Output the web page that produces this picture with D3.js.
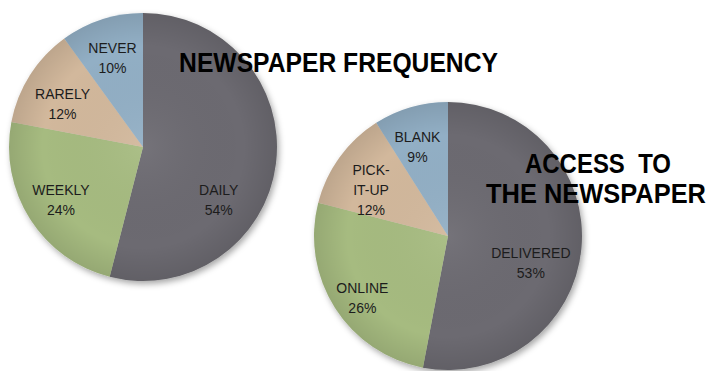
<!DOCTYPE html>
<html>
<head>
<meta charset="utf-8">
<script src="https://cdn.jsdelivr.net/npm/d3@7"></script>
<style>
  html, body { margin: 0; padding: 0; background: #fff; }
  svg { display: block; }
</style>
</head>
<body>
<svg id="chart" width="710" height="371"></svg>
<script>
// Survey results: how often people read the paper, and how they get it
const frequencyLabels = ["DAILY", "WEEKLY", "RARELY", "NEVER"];
const frequencyValues = [54, 24, 12, 10];

const accessLabels = ["DELIVERED", "ONLINE", "PICK-\nIT-UP", "BLANK"];
const accessValues = [53, 26, 12, 9];

const sliceColors = ["#6c6b71", "#a6bb80", "#d2b89c", "#92afc5"];

const svg = d3.select("#chart");
const defs = svg.append("defs");

// soft drop shadow under each pie
const shadow = defs.append("filter").attr("id", "pieShadow")
  .attr("x", "-20%").attr("y", "-20%").attr("width", "140%").attr("height", "140%");
shadow.append("feDropShadow")
  .attr("dx", 2).attr("dy", 3).attr("stdDeviation", 3)
  .attr("flood-color", "#000").attr("flood-opacity", 0.35);

// gentle darkening toward the rim
const rim = defs.append("radialGradient").attr("id", "rimShade");
rim.append("stop").attr("offset", "0%").attr("stop-color", "#fff").attr("stop-opacity", 0.06);
rim.append("stop").attr("offset", "75%").attr("stop-color", "#000").attr("stop-opacity", 0.0);
rim.append("stop").attr("offset", "100%").attr("stop-color", "#000").attr("stop-opacity", 0.10);

const radius = 134;

// label placement: [angle in degrees clockwise from 12 o'clock, fraction of radius]
const frequencyLabelLayout = [[125, 0.69], [237, 0.73], [298, 0.68], [341, 0.70]];
const accessLabelLayout    = [[108, 0.65], [234, 0.79], [301, 0.67], [341, 0.70]];

function drawPie(cx, cy, labels, values, layout) {
  const g = svg.append("g").attr("transform", `translate(${cx},${cy})`);
  const pie = d3.pie().sort(null).value(d => d.value)
    .startAngle(0).endAngle(2 * Math.PI);
  const arc = d3.arc().innerRadius(0).outerRadius(radius);
  const data = labels.map((l, i) => ({ label: l, value: values[i] }));
  const arcs = pie(data);

  const body = g.append("g").attr("filter", "url(#pieShadow)");
  body.selectAll("path.slice").data(arcs).join("path")
    .attr("class", "slice")
    .attr("d", arc)
    .attr("fill", (d, i) => sliceColors[i]);
  g.append("circle").attr("r", radius).attr("fill", "url(#rimShade)");

  const lineH = 20;
  arcs.forEach((d, i) => {
    const [deg, frac] = layout[i];
    const a = deg * Math.PI / 180;
    const x = Math.sin(a) * radius * frac;
    const y = -Math.cos(a) * radius * frac;
    const lines = d.data.label.split("\n").concat([d.data.value + "%"]);
    const t = g.append("text")
      .attr("text-anchor", "middle")
      .attr("font-family", "'Liberation Sans', Arial, sans-serif")
      .attr("font-size", 14)
      .attr("fill", "#1c1c1c");
    lines.forEach((ln, k) => {
      t.append("tspan")
        .attr("x", x)
        .attr("y", y + (k - (lines.length - 1) / 2) * lineH)
        .attr("dy", "0.35em")
        .text(ln);
    });
  });
}

drawPie(143, 147, frequencyLabels, frequencyValues, frequencyLabelLayout);
drawPie(448, 236, accessLabels, accessValues, accessLabelLayout);

// titles: bold, horizontally condensed to a set width around a center point
const titleFont = "'Liberation Sans', Arial, sans-serif";
function title(text, cx, baseline, size, width) {
  const g = svg.append("g");
  const t = g.append("text")
    .attr("text-anchor", "middle")
    .attr("font-family", titleFont).attr("font-weight", "bold")
    .attr("font-size", size).attr("fill", "#000")
    .attr("xml:space", "preserve")
    .text(text);
  const natural = t.node().getComputedTextLength();
  g.attr("transform", `translate(${cx},${baseline}) scale(${width / natural},1)`);
}

title("NEWSPAPER FREQUENCY", 338.5, 72, 28, 319);
title("ACCESS  TO", 598, 173, 27, 146);
title("THE NEWSPAPER", 596, 203, 27, 220);
</script>
</body>
</html>
